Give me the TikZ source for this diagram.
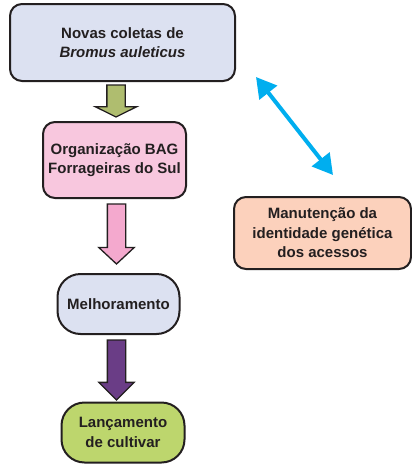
\documentclass[tikz,border=0pt]{standalone}
\usepackage{fontspec}
\setmainfont{Liberation Sans}
\usetikzlibrary{shapes.arrows,arrows.meta}

\definecolor{lavanda}{HTML}{DCE1F1}
\definecolor{rosa}{HTML}{F8C7DE}
\definecolor{rosaseta}{HTML}{F4A9CE}
\definecolor{verdeseta}{HTML}{AFBD6F}
\definecolor{roxo}{HTML}{6A3D86}
\definecolor{verde}{HTML}{BDD66D}
\definecolor{salmao}{HTML}{FCD1BC}
\definecolor{azul}{HTML}{00AEEF}
\definecolor{texto}{HTML}{231F20}

\tikzset{
  caixa/.style={draw=texto, line width=2pt, rounded corners=12pt, align=center,
    text=texto, font=\fontsize{15}{19.5}\selectfont\bfseries, inner sep=0pt},
  oval/.style={caixa, rounded corners=23pt},
  seta/.style={single arrow, draw=texto, line width=1.3pt, rotate=-90, anchor=tail,
    inner xsep=0pt, inner ysep=8.5pt, outer sep=0pt},
}

\begin{document}
\begin{tikzpicture}[x=1pt, y=-1pt]
  \useasboundingbox (0,0) rectangle (412,464);
  \node[caixa, fill=lavanda, minimum width=225pt, minimum height=77pt] (nov) at (122.5,42.5)
    {Novas coletas de\\\textit{Bromus auleticus}};
  \node[caixa, fill=rosa, minimum width=143pt, minimum height=76pt] (bag) at (114.5,160)
    {Organização BAG\\Forrageiras do Sul};
  \node[oval, fill=lavanda, minimum width=122pt, minimum height=60pt] (mel) at (118.5,304)
    {Melhoramento};
  \node[oval, fill=verde, minimum width=123pt, minimum height=60pt] (lan) at (123,432.5)
    {Lançamento\\de cultivar};
  \node[caixa, fill=salmao, minimum width=177pt, minimum height=72pt] (man) at (322.5,233)
    {Manutenção da\\identidade genética\\dos acessos};

  \node[seta, fill=verdeseta, minimum height=32pt, minimum width=40pt,
    single arrow head extend=11.5pt, single arrow tip angle=127] (s1) at (116,85) {};
  \node[seta, fill=rosaseta, minimum height=60pt, minimum width=34pt,
    single arrow head extend=8.5pt, single arrow tip angle=94] (s2) at (116.5,204) {};
  \node[seta, fill=roxo, minimum height=60pt, minimum width=34pt,
    single arrow head extend=8.5pt, single arrow tip angle=90] (s3) at (116.5,340) {};

  \coordinate (a) at (256,77);
  \coordinate (b) at (333,175);
  \draw[azul, line width=4pt, {Triangle[length=20pt,width=22pt]}-{Triangle[length=20pt,width=22pt]}] (a) -- (b);
\end{tikzpicture}
\end{document}
